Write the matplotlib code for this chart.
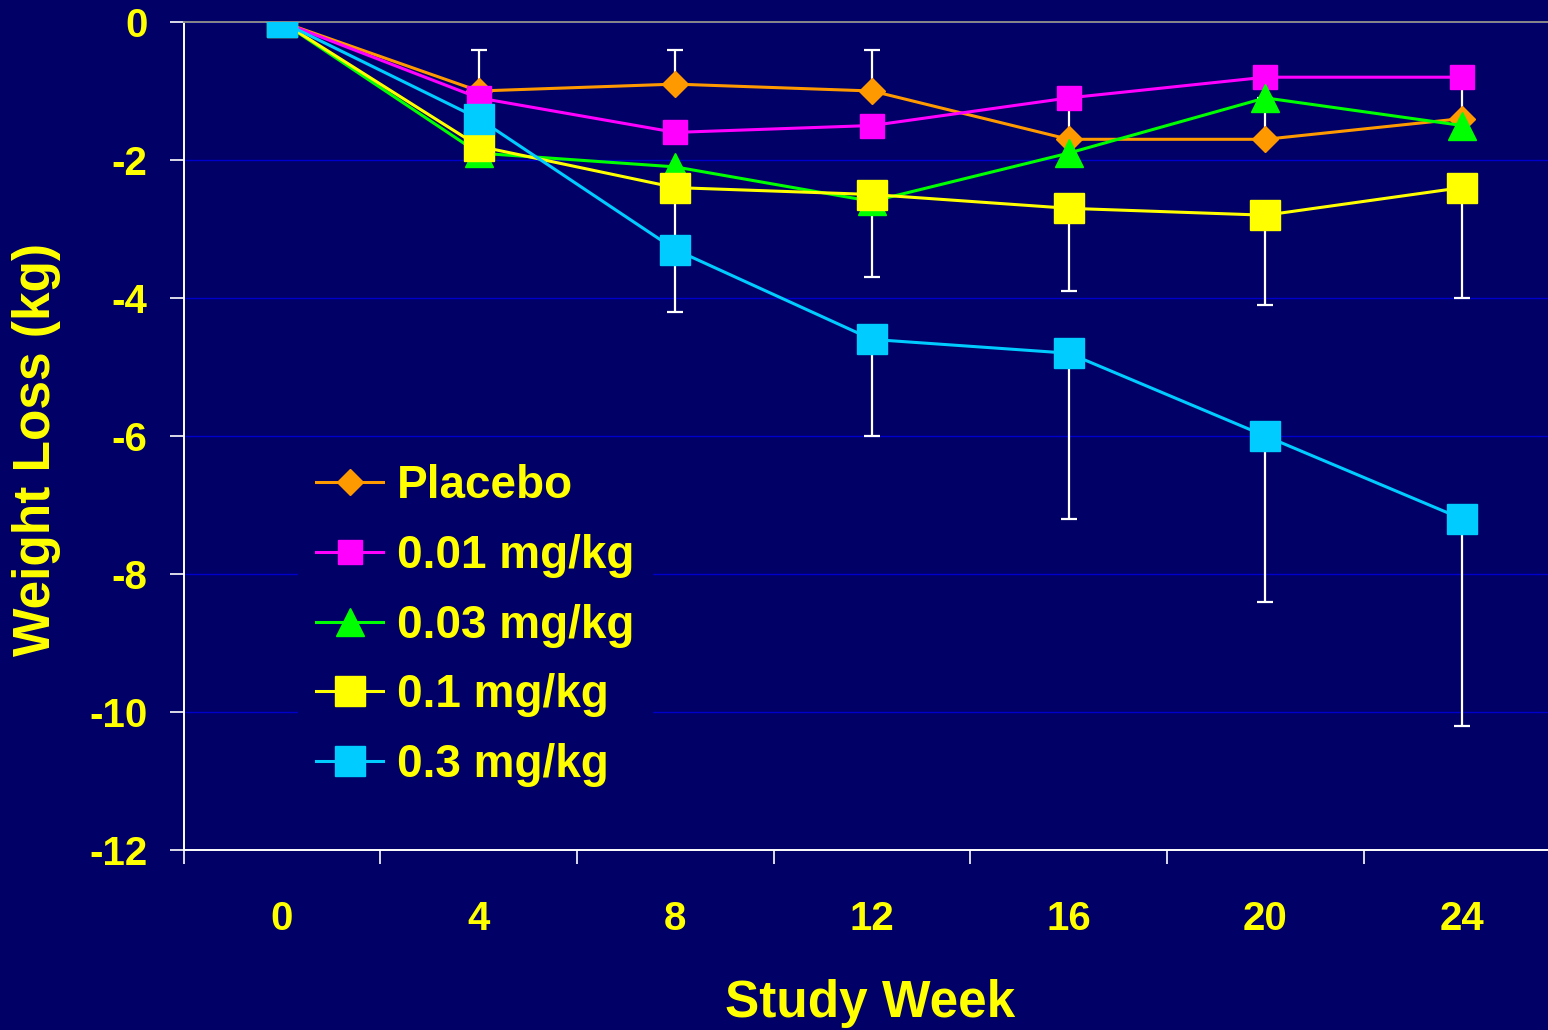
import numpy as np
import matplotlib
matplotlib.use("Agg")
import matplotlib.pyplot as plt

# ---- data ----
weeks = ["0", "4", "8", "12", "16", "20", "24"]

placebo = [0, -1.0, -0.9, -1.0, -1.7, -1.7, -1.4]
dose_001 = [0, -1.1, -1.6, -1.5, -1.1, -0.8, -0.8]
dose_003 = [0, -1.9, -2.1, -2.6, -1.9, -1.1, -1.5]
dose_01 = [0, -1.8, -2.4, -2.5, -2.7, -2.8, -2.4]
dose_03 = [0, -1.4, -3.3, -4.6, -4.8, -6.0, -7.2]

# one-sided error bars
placebo_err_up = [0, 0.6, 0.5, 0.6, 0.6, 0.6, 0.6]
dose_01_err_down = [0, 0.2, 1.0, 1.2, 1.2, 1.3, 1.6]
dose_03_err_down = [0, 0.4, 0.9, 1.4, 2.4, 2.4, 3.0]

labels = ["Placebo", "0.01 mg/kg", "0.03 mg/kg", "0.1 mg/kg", "0.3 mg/kg"]
colors = ["#FF9900", "#FF00FF", "#00FF00", "#FFFF00", "#00CCFF"]

BG = "#000066"
TXT = "#FFFF00"

plt.rcParams["font.family"] = ["Liberation Sans", "DejaVu Sans"]
plt.rcParams["font.weight"] = "bold"
plt.rcParams["axes.unicode_minus"] = False

fig = plt.figure(figsize=(15.48, 10.30), dpi=100, facecolor=BG)
ax = fig.add_axes([183.7 / 1548, 1 - 850 / 1030, 1 - 183.7 / 1548, (850 - 22) / 1030])
ax.set_facecolor(BG)

x = np.arange(len(weeks))
zeros = np.zeros(len(weeks))

# ---- error bars (behind markers) ----
ax.errorbar(x, placebo, yerr=[zeros, placebo_err_up], fmt="none",
            ecolor="white", elinewidth=1.6, capsize=5.5, capthick=1.6, zorder=2)
ax.errorbar(x, dose_01, yerr=[dose_01_err_down, zeros], fmt="none",
            ecolor="white", elinewidth=1.6, capsize=5.5, capthick=1.6, zorder=2)
ax.errorbar(x, dose_03, yerr=[dose_03_err_down, zeros], fmt="none",
            ecolor="white", elinewidth=1.6, capsize=5.5, capthick=1.6, zorder=2)

# ---- lines ----
series = [placebo, dose_001, dose_003, dose_01, dose_03]
markers = ["D", "s", "^", "s", "s"]
msizes = [13, 17, 19.5, 22, 22]
for vals, lab, c, m, ms in zip(series, labels, colors, markers, msizes):
    ax.plot(x, vals, color=c, lw=2.2, marker=m, ms=ms, mec=c, mfc=c,
            label=lab, zorder=3)

# ---- axes styling ----
ax.set_yticks(np.arange(-12, 1, 2))
ax.set_yticklabels([str(v) for v in range(-12, 1, 2)])
ax.yaxis.grid(True, color="#0000CC", lw=1.0)
ax.set_axisbelow(True)

ax.set_xticks(np.arange(-0.5, 6.6, 1.0))
ax.set_xticklabels([])
ax.set_xticks(x, minor=True)
ax.set_xticklabels(weeks, minor=True)

# limits after ticks so the ticks don't widen the view
ax.set_ylim(-12, 0)
ax.set_xlim(-0.5, (1548 - 183.7) / ((1462 - 282) / 6) - 0.5)

ax.tick_params(axis="y", colors="white", length=10, width=1.2, pad=16,
               labelsize=29, labelcolor=TXT)
ax.tick_params(axis="x", which="major", colors="white", length=10, width=1.2)
ax.tick_params(axis="x", which="minor", length=0, pad=36,
               labelsize=29, labelcolor=TXT)

for s in ["left", "bottom"]:
    ax.spines[s].set_color("white")
    ax.spines[s].set_linewidth(1.4)
ax.spines["top"].set_color("#888888")
ax.spines["top"].set_linewidth(1.4)
ax.spines["right"].set_visible(False)

fig.text(37 / 1548, 1 - 450 / 1030, "Weight Loss (kg)", rotation=90,
         ha="center", va="center", color=TXT, fontsize=37, fontweight="bold")
fig.text(870 / 1548, 1 - 1003 / 1030, "Study Week",
         ha="center", va="center", color=TXT, fontsize=37, fontweight="bold")

leg = ax.legend(loc="upper left", bbox_to_anchor=(298 / 1548, 1 - 446 / 1030),
                bbox_transform=fig.transFigure, borderaxespad=0,
                fontsize=33, labelcolor=TXT, handlelength=1.45,
                handletextpad=0.3, labelspacing=0.56, borderpad=0.4,
                frameon=True, facecolor=BG, edgecolor=BG, framealpha=1,
                fancybox=False, markerscale=1.0)

fig.savefig("out.png", dpi=100, facecolor=BG)
